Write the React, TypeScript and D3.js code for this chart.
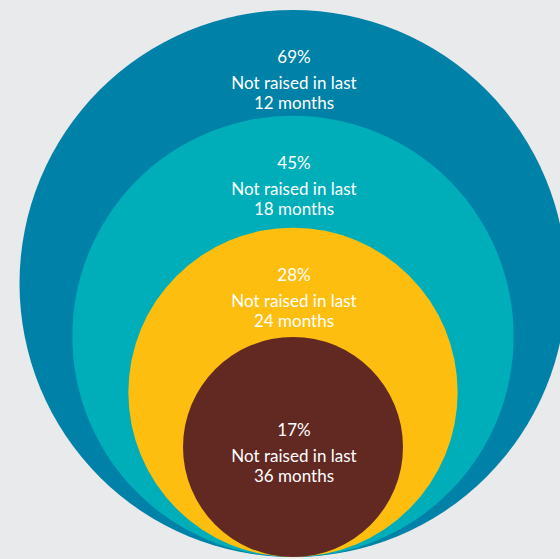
import React from "react";
import * as d3 from "d3";

const percents = [69, 45, 28, 17];
const months = ["12 months", "18 months", "24 months", "36 months"];
const colors = ["#0081a7", "#00aeb9", "#fdbe10", "#622923"];

const W = 560;
const H = 559;

export default function App() {
  const cx = 293;
  const bottom = 557;
  const r = d3.scaleSymlog().constant(5).domain([17, 69]).range([110, 273.5]);
  const items = percents.map((p, i) => {
    const rad = r(p);
    const cy = bottom - rad;
    const top = cy - rad;
    const last = i === percents.length - 1;
    const ly = last ? cy - 17 : top + 47;
    return { p, i, rad, cy, ly };
  });
  return (
    <svg
      width={W}
      height={H}
      style={{ position: "absolute", left: 0, top: 0, background: "#e9eaec" }}
    >
      <rect width={W} height={H} fill="#e9eaec" />
      {items.map((d) => (
        <circle key={d.i} cx={cx} cy={d.cy} r={d.rad} fill={colors[d.i]} />
      ))}
      {items.map((d) => (
        <g
          key={"t" + d.i}
          fill="#ffffff"
          fontFamily="Lato, 'Open Sans', sans-serif"
          fontSize={17}
          textAnchor="middle"
        >
          <text x={294} y={d.ly + 6}>{d.p}%</text>
          <text x={294} y={d.ly + 32}>Not raised in last</text>
          <text x={294} y={d.ly + 52}>{months[d.i]}</text>
        </g>
      ))}
    </svg>
  );
}
